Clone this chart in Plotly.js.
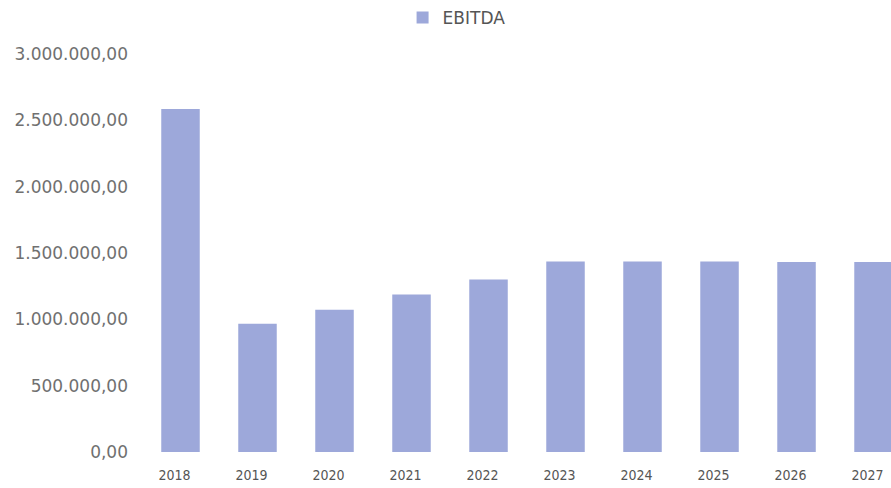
<!DOCTYPE html>
<html>
<head>
<meta charset="utf-8">
<script src="https://cdn.plot.ly/plotly-3.0.1.min.js"></script>
<style>html,body{margin:0;padding:0;background:#fff;overflow:hidden}#chart{width:891px;height:488px}</style>
</head>
<body>
<div id="chart"></div>
<script>
const years = ['2018','2019','2020','2021','2022','2023','2024','2025','2026','2027'];
const ebitda = [2585000, 967000, 1073000, 1187000, 1300000, 1436000, 1436000, 1436000, 1432000, 1432000];
const yTicks = [0, 500000, 1000000, 1500000, 2000000, 2500000, 3000000];

const trace = {
  type: 'bar',
  name: 'EBITDA',
  x: years,
  y: ebitda,
  marker: {color: '#9da8da'},
  hoverinfo: 'x+y'
};

const layout = {
  width: 891,
  height: 488,
  margin: {l: 142, r: 0, t: 54, b: 36, pad: 0},
  paper_bgcolor: '#ffffff',
  plot_bgcolor: '#ffffff',
  separators: ',.',
  bargap: 0.5,
  showlegend: true,
  legend: {
    orientation: 'h',
    xref: 'paper', x: 0.42, xanchor: 'center',
    yref: 'container', y: 1, yanchor: 'top',
    itemwidth: 30,
    font: {family: 'DejaVu Sans', size: 17, color: '#555555'},
    bgcolor: 'rgba(0,0,0,0)'
  },
  xaxis: {
    type: 'category',
    range: [-0.5, 9.227],
    showgrid: false, zeroline: false, showline: false, ticks: '',
    ticklabelstandoff: 13,
    ticklabelshift: -6,
    tickfont: {family: 'DejaVu Sans Condensed, DejaVu Sans', size: 14, color: '#555555'},
    fixedrange: true
  },
  yaxis: {
    range: [0, 3000000],
    tickvals: yTicks,
    tickformat: ',.2f',
    showgrid: false, zeroline: false, showline: false, ticks: '',
    ticklabelstandoff: 13,
    tickfont: {family: 'DejaVu Sans', size: 17, color: '#707070'},
    fixedrange: true
  }
};

Plotly.newPlot('chart', [trace], layout, {displayModeBar: false, staticPlot: true});
</script>
</body>
</html>
